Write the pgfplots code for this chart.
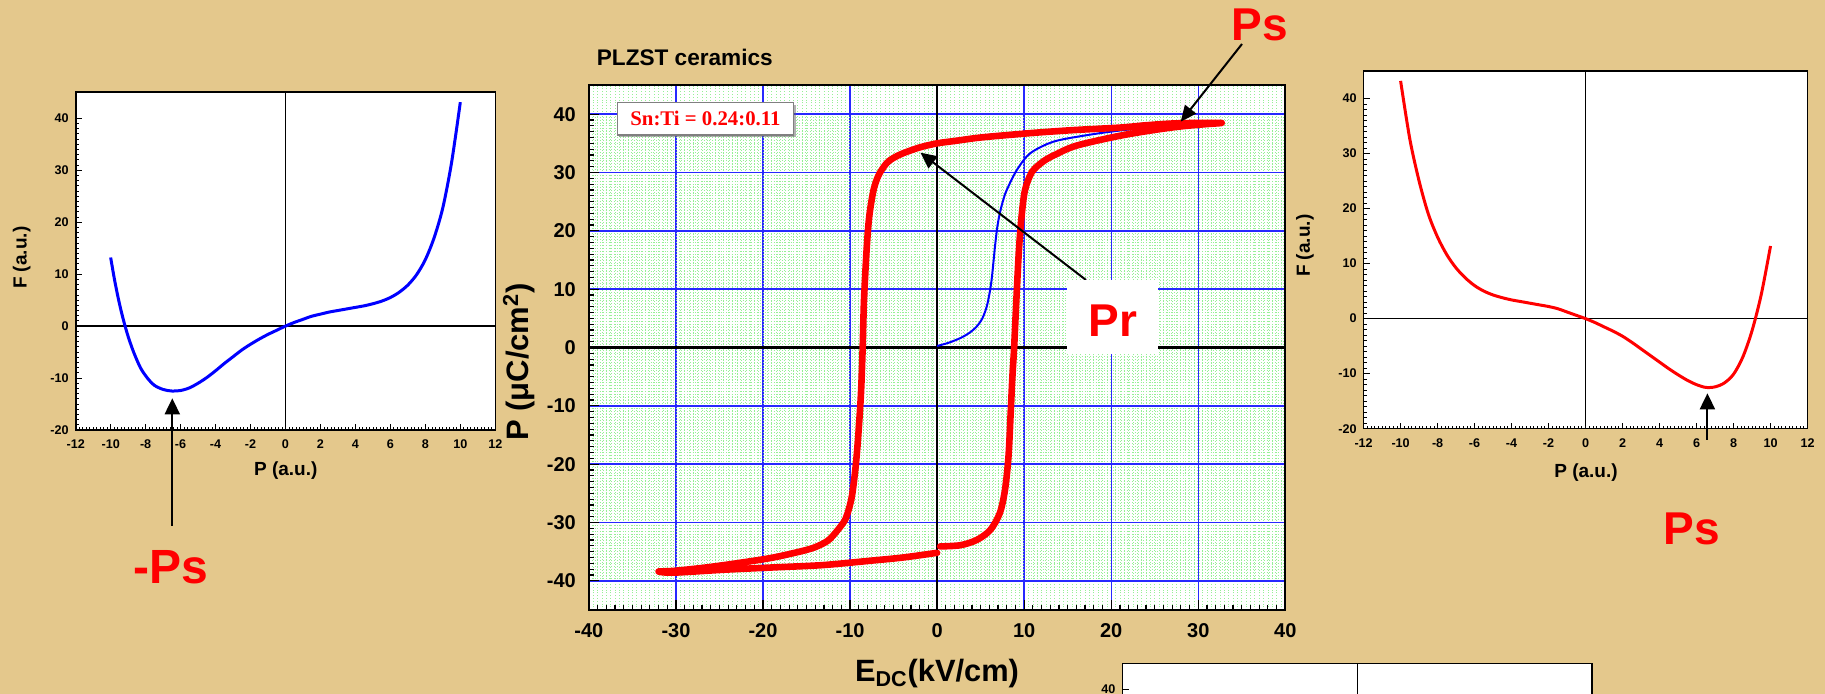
\documentclass[border=0pt]{standalone}
\usepackage{fontspec}
\setmainfont{Liberation Sans}
\newfontfamily\timesfont{Liberation Serif}
\usepackage{pgfplots}
\pgfplotsset{compat=1.18}
\usetikzlibrary{arrows.meta,shadows}

\definecolor{papyrus}{RGB}{228,200,140}
\definecolor{gridblue}{RGB}{40,40,255}
\definecolor{gridgreen}{RGB}{150,240,150}
\definecolor{curvered}{RGB}{255,0,0}
\definecolor{curveblue}{RGB}{0,0,255}

\pgfplotsset{
  smallF/.style={
    scale only axis, anchor=south west,
    xmin=-12, xmax=12, ymin=-20, ymax=45,
    xtick={-12,-10,...,12}, ytick={-20,-10,...,40},
    minor x tick num=9, minor y tick num=9,
    xtick pos=bottom, ytick pos=left, tick align=inside,
    major tick length=3pt, minor tick length=1.5pt,
    tick style={black, line width=0.4pt},
    axis line style={line width=0.8pt},
    axis background/.style={fill=white},
    ticklabel style={font=\bfseries\fontsize{6.3}{7}\selectfont},
    xticklabel style={yshift=-1.5pt},
    /pgf/number format/assume math mode=true,
  },
  bigP/.style={
    scale only axis, anchor=south west,
    at={(294.45pt,42pt)}, width=348.2pt, height=262.5pt,
    xmin=-40, xmax=40, ymin=-45, ymax=45,
    xtick={-40,-30,...,40}, ytick={-40,-30,...,40},
    xtick pos=bottom, ytick pos=left, tick align=inside,
    axis line style={line width=1pt},
  },
}

\begin{document}
\begin{tikzpicture}
\useasboundingbox (0pt,0pt) rectangle (912.5pt,347pt);
\clip (0pt,0pt) rectangle (912.5pt,347pt);
\fill[papyrus] (0pt,0pt) rectangle (912.5pt,347pt);

% left: F(P), blue
\begin{axis}[smallF, at={(37.85pt,132pt)}, width=209.8pt, height=168.85pt]
\draw[black, line width=0.6pt] (axis cs:-12,0) -- (axis cs:12,0);
\draw[black, line width=0.6pt] (axis cs:0,-20) -- (axis cs:0,45);
\addplot[curveblue, line width=1.5pt, smooth] coordinates {
(-10,13.2)(-9.8,9.3)(-9.6,5.9)(-9.4,2.9)(-9.2,0.3)(-9.0,-2.0)(-8.7,-4.9)
(-8.3,-8.0)(-7.9,-10.0)(-7.5,-11.4)(-7.0,-12.2)(-6.5,-12.5)(-6.0,-12.4)
(-5.5,-11.9)(-5.0,-11.0)(-4.5,-9.9)(-4.0,-8.6)(-3.5,-7.2)(-3.0,-5.9)(-2.5,-4.6)
(-2.0,-3.5)(-1.5,-2.5)(-1.0,-1.6)(-0.5,-0.8)(0,0)(0.5,0.7)(1.0,1.3)(1.5,1.9)
(2.0,2.3)(2.5,2.7)(3.0,3.0)(3.5,3.3)(4.0,3.6)(4.5,3.9)(5.0,4.3)(5.5,4.8)
(6.0,5.5)(6.5,6.5)(7.0,7.9)(7.5,9.9)(8.0,12.8)(8.5,17.0)(9.0,22.8)(9.5,31.5)
(10,43.1)};
\end{axis}

% right: F(P), red
\begin{axis}[smallF, at={(681.8pt,132.65pt)}, width=221.95pt, height=178.85pt]
\draw[black, line width=0.6pt] (axis cs:-12,0) -- (axis cs:12,0);
\draw[black, line width=0.6pt] (axis cs:0,-20) -- (axis cs:0,45);
\addplot[curvered, line width=1.5pt, smooth] coordinates {
(-10,43.2)(-9.5,32.6)(-9.0,25.0)(-8.5,19.0)(-8.0,14.8)(-7.5,11.6)(-7.0,9.2)
(-6.5,7.4)(-6.0,6.0)(-5.5,5.0)(-5.0,4.3)(-4.5,3.8)(-4.0,3.4)(-3.5,3.1)(-3.0,2.8)
(-2.5,2.5)(-2.0,2.2)(-1.5,1.8)(-1.0,1.2)(-0.5,0.6)(0,0)(0.5,-0.7)(1.0,-1.5)
(1.5,-2.3)(2.0,-3.2)(2.5,-4.3)(3.0,-5.5)(3.5,-6.7)(4.0,-7.9)(4.5,-9.1)
(5.0,-10.2)(5.5,-11.2)(6.0,-12.0)(6.5,-12.5)(7.0,-12.4)(7.5,-11.7)(8.0,-10.1)
(8.5,-7.0)(9.0,-2.2)(9.5,4.4)(10.0,13.2)};
\end{axis}

% bottom right, cut off by the page
\begin{axis}[smallF, at={(561.25pt,-154.3pt)}, width=234.65pt, height=169.65pt,
  xticklabels={}, yticklabels={,,,,,,40}]
\draw[black, line width=0.6pt] (axis cs:-12,0) -- (axis cs:12,0);
\draw[black, line width=0.6pt] (axis cs:0,-20) -- (axis cs:0,45);
\end{axis}

% middle: hysteresis loop, grid layer
\begin{axis}[bigP,
  minor x tick num=19, minor y tick num=19,
  grid=both,
  major grid style={gridblue, line width=0.7pt},
  minor grid style={gridgreen, densely dotted, line width=0.35pt},
  major tick length=0pt, minor tick length=0pt,
  axis background/.style={fill=white},
  ticklabel style={font=\bfseries\fontsize{10}{12}\selectfont},
  xticklabel style={yshift=-3pt}, yticklabel style={xshift=-3pt},
  /pgf/number format/assume math mode=true,
]
\draw[black, line width=1.2pt] (axis cs:-40,0) -- (axis cs:40,0);
\draw[black, line width=1.2pt] (axis cs:0,-45) -- (axis cs:0,45);
\addplot[curveblue, line width=1pt, smooth] coordinates {
(0,0.26)(1.3,0.8)(2.65,1.6)(3.7,2.5)(4.55,3.6)(5.2,5.0)(5.7,7.0)(6.05,9.5)
(6.3,12.1)(6.65,17.3)(6.9,20.5)(7.2,23.0)(7.6,25.3)(8.0,27.0)(9.15,30.4)
(10.7,33.3)(13.4,35.3)(17.2,36.4)(21,37.2)(25,37.8)(29,38.4)(32.5,38.8)};
\addplot[curvered, line width=3.3pt, line cap=round, line join=round, smooth] coordinates {
(0.35,-34.1)(2.65,-33.9)(4.55,-33.0)(6.1,-31.3)(7.2,-28.4)(7.8,-24.4)(8.2,-18.7)
(8.45,-11.3)(8.65,-5)(8.85,0)(9.1,8)(9.4,16.7)(9.7,22.4)(10.1,27.0)(10.9,30.1)
(12.2,31.9)(13.5,33.0)(16,34.6)(21,36.3)(25,37.3)(28,37.9)(31,38.3)(32.7,38.5)
(30,38.5)(27,38.4)(24,38.1)(21,37.7)(16,37.3)(12,36.9)(9.5,36.6)(5,36.0)
(2,35.4)(0,35.0)(-2,34.3)(-3.9,33.3)(-5.0,32.5)(-5.8,31.6)(-6.7,29.6)(-7.3,27.0)
(-7.8,22.4)(-8.1,16.7)(-8.4,8)(-8.55,0)(-8.75,-8)(-9.1,-16)(-9.4,-21)(-9.8,-25.6)
(-10.3,-28.5)(-10.8,-30.1)(-12.3,-32.8)(-13.5,-33.9)(-15,-34.7)(-18.8,-36.0)
(-22.6,-36.9)(-26.5,-37.7)(-30.3,-38.3)(-32.0,-38.4)
(-30.3,-38.6)(-24.5,-38.1)(-18.8,-37.7)(-13.1,-37.3)(-7.3,-36.5)(-3.9,-36.0)
(0,-35.2)};
\end{axis}

% middle: tick marks
\begin{axis}[bigP,
  minor x tick num=9, minor y tick num=9,
  major tick length=5pt, minor tick length=2.4pt,
  tick style={black, line width=0.6pt},
  xticklabels={}, yticklabels={},
]
\end{axis}

% labels
\node[rotate=90, font=\bfseries\fontsize{9.5}{11}\selectfont] at (10.85pt,218.1pt) {F (a.u.)};
\node[font=\bfseries\fontsize{9.5}{11}\selectfont] at (142.9pt,111.5pt) {P (a.u.)};
\node[rotate=90, font=\bfseries\fontsize{9.5}{11}\selectfont] at (652.5pt,224.1pt) {F (a.u.)};
\node[font=\bfseries\fontsize{9.5}{11}\selectfont] at (793pt,110.5pt) {P (a.u.)};

\node[anchor=west, inner sep=0pt, font=\bfseries\fontsize{11.3}{13}\selectfont] at (298.25pt,318.2pt) {PLZST ceramics};
\node[rotate=90, font=\bfseries\fontsize{15.5}{18}\selectfont] at (259.5pt,166pt) {P (μC/cm\textsuperscript{2})};
\node[anchor=base, font=\bfseries\fontsize{15.4}{18}\selectfont] at (468.5pt,6.3pt) {E\textsubscript{DC}(kV/cm)};

\node[draw=gray, fill=white, line width=0.6pt, minimum width=88.2pt, minimum height=16.15pt,
  drop shadow={shadow xshift=1pt, shadow yshift=-1pt, fill=black!60},
  font=\timesfont\bfseries\fontsize{10.4}{12}\selectfont, text=curvered]
  at (352.75pt,287.6pt) {Sn:Ti = 0.24:0.11};

\draw[line width=1pt, -{Triangle[width=7pt,length=8pt]}] (621pt,325pt) -- (590.35pt,286.15pt);
\node[font=\bfseries\fontsize{23}{26}\selectfont, text=curvered] at (629.9pt,334.3pt) {Ps};

\draw[line width=1pt, -{Triangle[width=7.5pt,length=8pt]}] (543pt,207pt) -- (460.25pt,270.65pt);
\fill[white] (533.5pt,170pt) rectangle (579pt,207pt);
\node[font=\bfseries\fontsize{23}{26}\selectfont, text=curvered] at (556.5pt,186.6pt) {Pr};

\draw[line width=1pt, -{Triangle[width=7.5pt,length=8pt]}] (86.15pt,84pt) -- (86.15pt,147.85pt);
\node[font=\bfseries\fontsize{24}{27}\selectfont, text=curvered] at (85.25pt,63.5pt) {-Ps};

\draw[line width=1pt, -{Triangle[width=7.5pt,length=8pt]}] (853.7pt,127pt) -- (853.7pt,150.35pt);
\node[font=\bfseries\fontsize{23}{26}\selectfont, text=curvered] at (846pt,82.5pt) {Ps};
\end{tikzpicture}
\end{document}
